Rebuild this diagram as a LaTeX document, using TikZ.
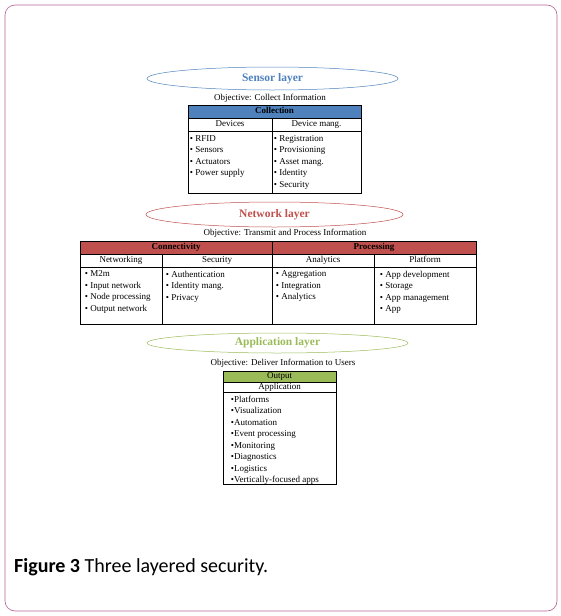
\documentclass[tikz,border=0pt]{standalone}
\usepackage{fontspec}
\setmainfont{Liberation Serif}
\newfontfamily\captionfont{Carlito}
\usepackage{tikz}
\usetikzlibrary{
    shapes.geometric,
    positioning
}
\definecolor{framepink}{RGB}{178,98,146}
\definecolor{sensorblue}{RGB}{79,129,189}
\definecolor{networkred}{RGB}{192,80,77}
\definecolor{appgreen}{RGB}{155,187,89}

\begin{document}
\begin{tikzpicture}[
            x=1pt, y=-1pt,
            font=\fontsize{9}{11.4}\selectfont,
            layer/.style={draw, ellipse, line width=0.5pt, inner sep=0pt,
                          font=\fontsize{11.5}{13}\selectfont\bfseries},
            objective/.style={inner sep=0pt},
            cell/.style={draw, line width=0.5pt, inner sep=0pt, minimum height=13,
                         text height=6.3pt, text depth=1.9pt},
            headcell/.style={cell, font=\fontsize{9}{11}\selectfont\bfseries},
            listcell/.style={draw, line width=0.5pt, inner sep=0pt},
            items/.style={inner sep=0pt, align=left, anchor=north west,
                          font=\fontsize{9}{11.5}\selectfont}
        ]
            \useasboundingbox (0,0) rectangle (561,616);
            \node[draw=framepink, line width=0.6pt, rounded corners=10pt,
                  minimum width=552, minimum height=606] (frame) at (281,308) {};

            % sensor layer
            \node[layer, draw=sensorblue, text=sensorblue,
                  minimum width=251, minimum height=23] (sensor) at (272.5,78.5) {Sensor layer};
            \node[objective] (sensorobj) at (270,98.5) {Objective: Collect Information};

            \node[headcell, fill=sensorblue, minimum width=173] (collection) at (274.5,111.5) {Collection};
            \node[cell, minimum width=84] (devices) at (230,124.5) {Devices};
            \node[cell, minimum width=89] (devmang) at (316.5,124.5) {Device mang.};
            \node[listcell, minimum width=84, minimum height=62] (devlist) at (230,162) {};
            \node[listcell, minimum width=89, minimum height=62] (manglist) at (316.5,162) {};
            \node[items] at ([xshift=2pt, yshift=-4.5pt]devlist.north west)
                {\textbullet\ RFID\\ \textbullet\ Sensors\\ \textbullet\ Actuators\\ \textbullet\ Power supply};
            \node[items] at ([xshift=2pt, yshift=-4.5pt]manglist.north west)
                {\textbullet\ Registration\\ \textbullet\ Provisioning\\ \textbullet\ Asset mang.\\
                 \textbullet\ Identity\\ \textbullet\ Security};

            % network layer
            \node[layer, draw=networkred, text=networkred,
                  minimum width=257, minimum height=25] (network) at (274.5,214.5) {Network layer};
            \node[objective] (networkobj) at (285,233.5) {Objective: Transmit and Process Information};

            \node[headcell, fill=networkred, minimum width=192] (connectivity) at (176,247.5) {Connectivity};
            \node[headcell, fill=networkred, minimum width=204] (processing) at (374,247.5) {Processing};
            \node[cell, minimum width=82] (networking) at (121,260.5) {Networking};
            \node[cell, minimum width=110] (security) at (217,260.5) {Security};
            \node[cell, minimum width=102] (analytics) at (323,260.5) {Analytics};
            \node[cell, minimum width=102] (platform) at (425,260.5) {Platform};
            \node[listcell, minimum width=82, minimum height=57] (netlist) at (121,295.5) {};
            \node[listcell, minimum width=110, minimum height=57] (seclist) at (217,295.5) {};
            \node[listcell, minimum width=102, minimum height=57] (analist) at (323,295.5) {};
            \node[listcell, minimum width=102, minimum height=57] (platlist) at (425,295.5) {};
            \node[items] at ([xshift=5pt, yshift=-4pt]netlist.north west)
                {\textbullet\ M2m\\ \textbullet\ Input network\\ \textbullet\ Node processing\\
                 \textbullet\ Output network};
            \node[items] at ([xshift=4pt, yshift=-4pt]seclist.north west)
                {\textbullet\ Authentication\\ \textbullet\ Identity mang.\\ \textbullet\ Privacy};
            \node[items] at ([xshift=4pt, yshift=-4pt]analist.north west)
                {\textbullet\ Aggregation\\ \textbullet\ Integration\\ \textbullet\ Analytics};
            \node[items] at ([xshift=6pt, yshift=-4pt]platlist.north west)
                {\textbullet\ App development\\ \textbullet\ Storage\\ \textbullet\ App management\\
                 \textbullet\ App};

            % application layer
            \node[layer, draw=appgreen, text=appgreen,
                  minimum width=261, minimum height=20] (application) at (277.5,343) {Application layer};
            \node[objective] (appobj) at (283,363.5) {Objective: Deliver Information to Users};

            \node[headcell, fill=appgreen, font=\fontsize{9}{11}\selectfont,
                  minimum width=113, minimum height=11] (output) at (279.5,376.5) {Output};
            \node[cell, minimum width=113, minimum height=10] (appcell) at (279.5,387) {Application};
            \node[listcell, minimum width=113, minimum height=92] (applist) at (279.5,438) {};
            \node[items] at ([xshift=8pt, yshift=-4pt]applist.north west)
                {\textbullet Platforms\\ \textbullet Visualization\\ \textbullet Automation\\
                 \textbullet Event processing\\ \textbullet Monitoring\\ \textbullet Diagnostics\\
                 \textbullet Logistics\\ \textbullet Vertically-focused apps};

            % caption
            \node[anchor=west, inner sep=0pt, font=\captionfont\fontsize{20}{22}\selectfont]
                (caption) at (14,567) {\textbf{Figure 3} Three layered security.};
        \end{tikzpicture}
\end{document}
